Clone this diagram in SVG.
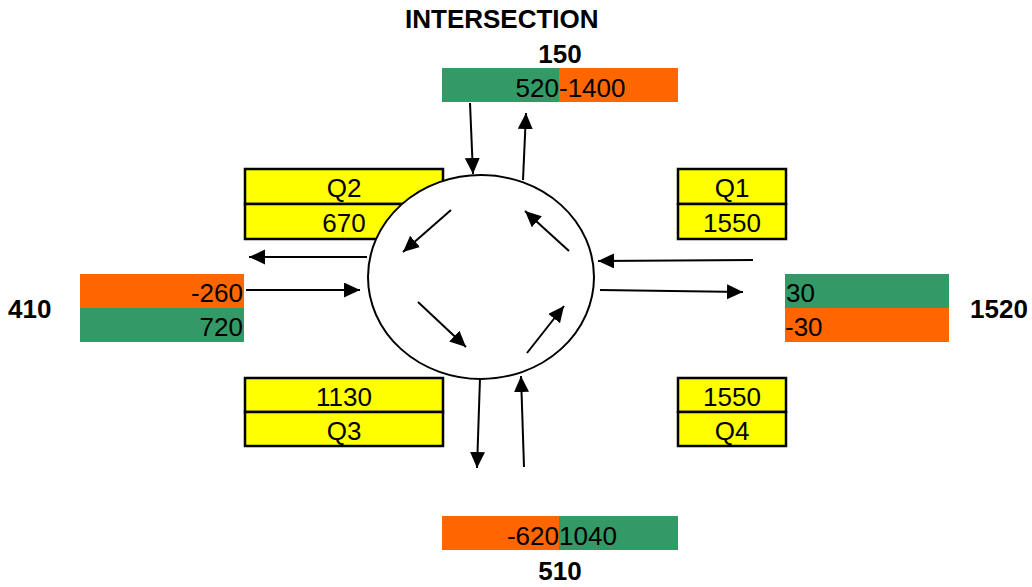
<svg xmlns="http://www.w3.org/2000/svg" width="1032" height="587" viewBox="0 0 1032 587">
<style>
text{font-family:"Liberation Sans",Arial,sans-serif;font-size:26px;fill:#000}
.b{font-weight:bold}
.m{text-anchor:middle}
.e{text-anchor:end}
.g{fill:#339966}
.o{fill:#FF6600}
.y{fill:#FFFF00;stroke:#000;stroke-width:2.5}
.c line{stroke:#000;stroke-width:2;marker-end:url(#ah)}
</style>
<defs>
<marker id="ah" markerUnits="userSpaceOnUse" markerWidth="17" markerHeight="16" refX="16" refY="7.5" orient="auto">
<path d="M0,0 L16,7.5 L0,15 z" fill="#000"/>
</marker>
</defs>
<rect width="1032" height="587" fill="#fff"/>
<g id="title"><text class="b" x="405" y="28">INTERSECTION</text></g>
<g id="north">
<text class="b m" x="560" y="63">150</text>
<rect class="g" x="442" y="68" width="117" height="34"/>
<rect class="o" x="559" y="68" width="119" height="34"/>
<text class="e" x="559" y="97">520</text>
<text x="559" y="97">-1400</text>
</g>
<g id="south">
<rect class="o" x="442" y="516" width="117" height="34"/>
<rect class="g" x="559" y="516" width="119" height="34"/>
<text class="e" x="559" y="545">-620</text>
<text x="559" y="545">1040</text>
<text class="b m" x="560" y="580">510</text>
</g>
<g id="west">
<rect class="o" x="80" y="274" width="164" height="34"/>
<rect class="g" x="80" y="308" width="164" height="34"/>
<text class="e" x="243" y="302">-260</text>
<text class="e" x="243" y="336">720</text>
<text class="b" x="8" y="318">410</text>
</g>
<g id="east">
<rect class="g" x="785" y="274" width="164" height="34"/>
<rect class="o" x="785" y="308" width="164" height="34"/>
<text x="786" y="302">30</text>
<text x="785" y="336">-30</text>
<text class="b" x="970" y="318">1520</text>
</g>
<g id="q2">
<rect class="y" x="245" y="169" width="198" height="35"/>
<rect class="y" x="245" y="204" width="198" height="35"/>
<text class="m" x="344" y="197">Q2</text>
<text class="m" x="344" y="232">670</text>
</g>
<g id="q1">
<rect class="y" x="678" y="169" width="108" height="35"/>
<rect class="y" x="678" y="204" width="108" height="35"/>
<text class="m" x="732" y="197">Q1</text>
<text class="m" x="732" y="232">1550</text>
</g>
<g id="q3">
<rect class="y" x="245" y="378" width="198" height="34"/>
<rect class="y" x="245" y="412" width="198" height="34"/>
<text class="m" x="344" y="406">1130</text>
<text class="m" x="344" y="440">Q3</text>
</g>
<g id="q4">
<rect class="y" x="678" y="378" width="108" height="34"/>
<rect class="y" x="678" y="412" width="108" height="34"/>
<text class="m" x="732" y="406">1550</text>
<text class="m" x="732" y="440">Q4</text>
</g>
<g id="roundabout">
<ellipse cx="481" cy="277" rx="113" ry="102" fill="#fff" stroke="#000" stroke-width="2"/>
</g>
<g class="c" id="connectors">
<line x1="470" y1="103" x2="473" y2="174"/>
<line x1="523" y1="180" x2="526" y2="113"/>
<line x1="367" y1="257" x2="249" y2="257"/>
<line x1="246" y1="290" x2="360" y2="290"/>
<line x1="753" y1="260" x2="598" y2="261"/>
<line x1="600" y1="290" x2="743" y2="292"/>
<line x1="480" y1="378" x2="477" y2="468"/>
<line x1="524" y1="467" x2="521" y2="376"/>
<line x1="451" y1="210" x2="403" y2="252"/>
<line x1="569" y1="251" x2="525" y2="211"/>
<line x1="418" y1="302" x2="466" y2="347"/>
<line x1="527" y1="353" x2="564" y2="306"/>
</g>
</svg>
